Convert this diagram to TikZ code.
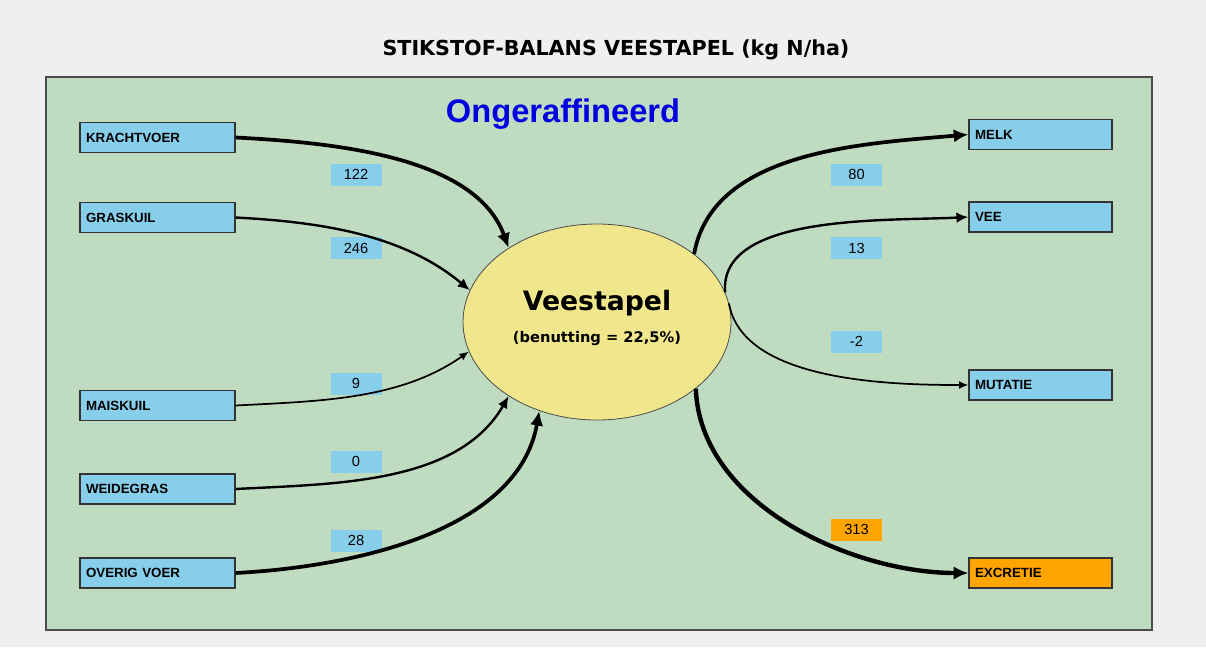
\documentclass[tikz,border=0pt]{standalone}
\usepackage{fontspec}
\setmainfont{Liberation Sans}
\newfontfamily\dejavu{DejaVu Sans}
\usetikzlibrary{arrows.meta,shapes.geometric,positioning}

\definecolor{bggray}{RGB}{239,239,239}
\definecolor{panelgreen}{RGB}{192,220,192}
\definecolor{boxblue}{RGB}{135,206,235}
\definecolor{stockyellow}{RGB}{240,230,140}
\definecolor{excorange}{RGB}{255,165,0}
\definecolor{titleblue}{RGB}{0,0,225}

\begin{document}
\begin{tikzpicture}
			[
				x = 0.75pt, y = 0.75pt,
				inbox/.style   = {draw=black!80, fill=boxblue, line width=0.9pt,
				                  minimum height=22.5pt, inner xsep=4.5pt, inner ysep=0pt,
				                  text width=107.25pt, align=left,
				                  font=\bfseries\fontsize{10}{12}\selectfont},
				outbox/.style  = {inbox, text width=98.25pt},
				value/.style   = {fill=boxblue, minimum width=38.25pt, minimum height=16.5pt,
				                  inner sep=0pt, font=\fontsize{11}{13}\selectfont},
				flow/.style    = {draw, -{Latex[length=11pt,width=10pt]}, line width=2.8pt},
				midflow/.style = {draw, -{Latex[length=9pt,width=8pt]}, line width=1.8pt},
				thinflow/.style= {draw, -{Latex[length=7pt,width=6pt]}, line width=1.3pt}
			]
			% frame
			\fill [bggray] (0,0) rectangle (1206,-647);
			\draw [panelgreen, fill=panelgreen] (46,-77) rectangle (1152,-630);
			\draw [black!70, line width=1pt] (46,-77) rectangle (1152,-630);
			\node (title) at (616,-50) {\dejavu\bfseries\fontsize{15.5}{18}\selectfont STIKSTOF-BALANS VEESTAPEL (kg N/ha)};
			\node [text=titleblue] (variant) at (563,-114) {\bfseries\fontsize{24.5}{28}\selectfont Ongeraffineerd};

			% centre
			\node [ellipse, draw=black!70, fill=stockyellow, line width=0.6pt,
			       minimum width=201pt, minimum height=147pt, inner sep=0pt] (stock) at (597,-322) {};
			\node (stocktitle) at (597,-303) {\dejavu\bfseries\fontsize{20}{24}\selectfont Veestapel};
			\node (stockeff) at (597,-339) {\dejavu\bfseries\fontsize{11}{13}\selectfont (benutting = 22,5\%)};

			% inputs
			\node [inbox] (kracht) at (157.5,-137.5) {KRACHTVOER};
			\node [inbox] (gras)   at (157.5,-217.5) {GRASKUIL};
			\node [inbox] (mais)   at (157.5,-405.5) {MAISKUIL};
			\node [inbox] (weide)  at (157.5,-489)   {WEIDEGRAS};
			\node [inbox] (overig) at (157.5,-573)   {OVERIG VOER};

			% outputs
			\node [outbox] (melk)    at (1040.5,-134.5) {MELK};
			\node [outbox] (vee)     at (1040.5,-217)   {VEE};
			\node [outbox] (mutatie) at (1040.5,-385)   {MUTATIE};
			\node [outbox, fill=excorange] (excretie) at (1040.5,-573) {EXCRETIE};

			% values
			\node [value] (vkracht)   at (356,-174.5) {122};
			\node [value] (vgras)     at (356,-248)   {246};
			\node [value] (vmais)     at (356,-383.5) {9};
			\node [value] (vweide)    at (356,-461.5) {0};
			\node [value] (voverig)   at (356,-540.5) {28};
			\node [value] (vmelk)     at (856.5,-174.5) {80};
			\node [value] (vvee)      at (856.5,-248)   {13};
			\node [value] (vmutatie)  at (856.5,-341.5) {-2};
			\node [value, fill=excorange] (vexcretie) at (856.5,-529.5) {313};

			% flows in
			\path [flow]     (kracht.east) to [out=-3, in=110, looseness=0.85] (stock.140);
			\path [midflow]  (gras.east)   to [out=-3, in=140, looseness=0.9]  (stock.166);
			\path [thinflow] (mais.east)   to [out=3,  in=215, looseness=0.9]  (stock.193);
			\path [midflow]  (weide.east)  to [out=3,  in=240, looseness=0.9]  (stock.220);
			\path [flow]     (overig.east) to [out=3,  in=260, looseness=0.9]  (stock.237);

			% flows out
			\path [flow]     (stock.35)  to [out=80,  in=185, looseness=0.9] (melk.west);
			\path [midflow]  (stock.13)  to [out=95,  in=183, looseness=0.8] (vee.west);
			\path [thinflow] (stock.8)   to [out=-80, in=180, looseness=0.8] (mutatie.west);
			\path [flow, line width=3.3pt] (stock.-34) to [out=-88, in=180, looseness=0.9] (excretie.west);
		\end{tikzpicture}
\end{document}
